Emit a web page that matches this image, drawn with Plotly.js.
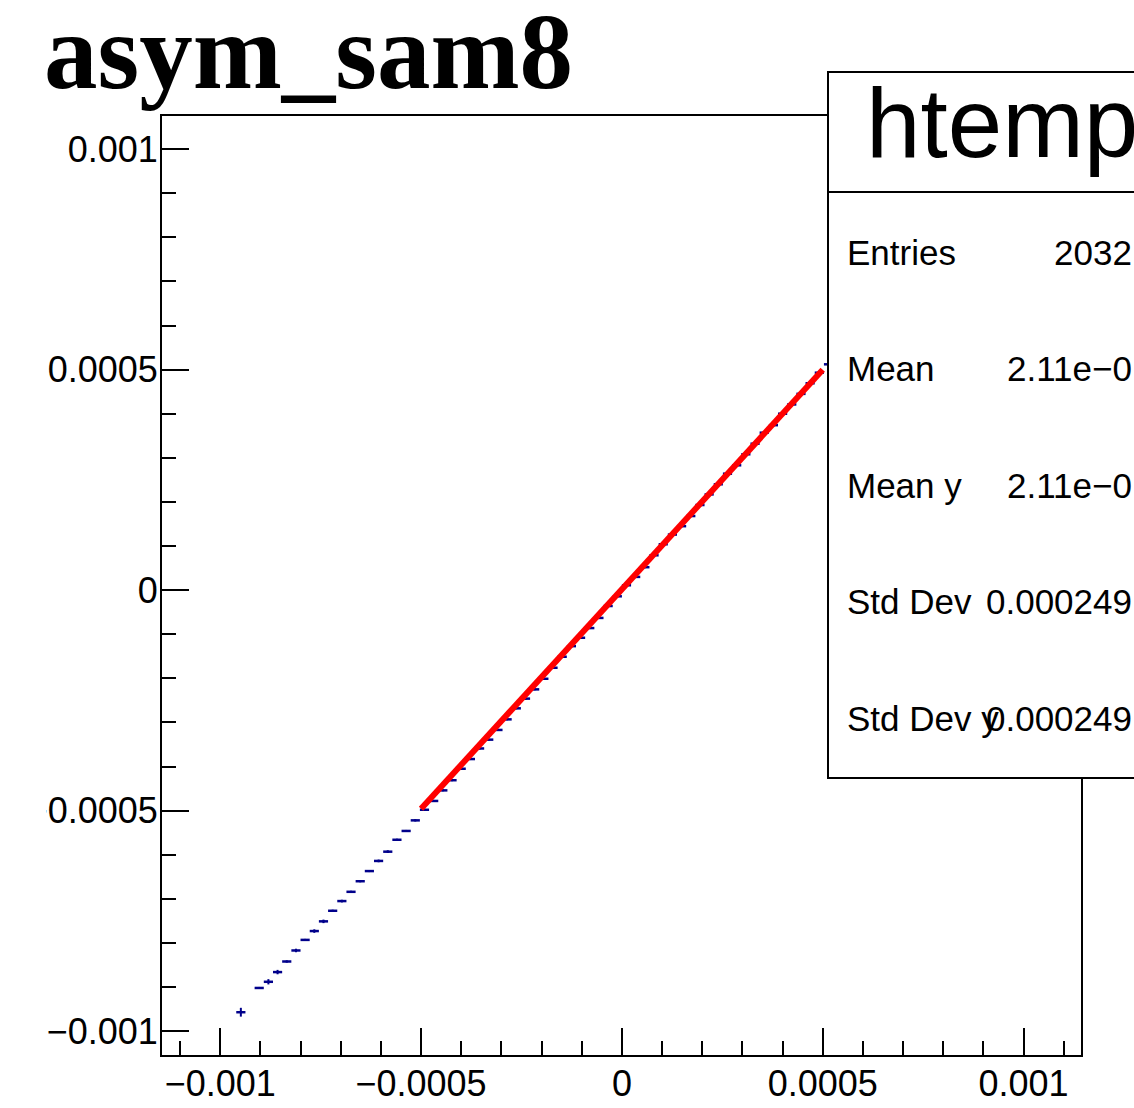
<!DOCTYPE html>
<html>
<head>
<meta charset="utf-8">
<script src="https://cdn.plot.ly/plotly-3.0.1.min.js"></script>
<style>
  html, body { margin: 0; padding: 0; background: #ffffff; }
  #chart { width: 1134px; height: 1108px; }
</style>
</head>
<body>
<div id="chart"></div>
<script>
// ---- Data ----
const chartTitle = "asym_sam8";
const statsTitle = "htemp";
const statsLabels = ["Entries", "Mean", "Mean y", "Std Dev", "Std Dev y"];
const statsValues = ["2032", "2.11e\u22120", "2.11e\u22120", "0.000249", "0.000249"];

// profile bin centres (x) and bin mean of y
const binCenters = [
  -0.0009487, -0.0009030, -0.0008801, -0.0008573, -0.0008344, -0.0008115, -0.0007887,
  -0.0007658, -0.0007430, -0.0007201, -0.0006972, -0.0006744, -0.0006515, -0.0006287,
  -0.0006058, -0.0005829, -0.0005601, -0.0005372, -0.0005144, -0.0004915, -0.0004686,
  -0.0004458, -0.0004229, -0.0004001, -0.0003772, -0.0003543, -0.0003315, -0.0003086,
  -0.0002858, -0.0002629, -0.0002400, -0.0002172, -0.0001943, -0.0001715, -0.0001486,
  -0.0001257, -0.0001029, -0.0000800, -0.0000572, -0.0000343, -0.0000114, 0.0000114,
  0.0000343, 0.0000572, 0.0000800, 0.0001029, 0.0001257, 0.0001486, 0.0001715,
  0.0001943, 0.0002172, 0.0002400, 0.0002629, 0.0002858, 0.0003086, 0.0003315,
  0.0003543, 0.0003772, 0.0004001, 0.0004229, 0.0004458, 0.0004686, 0.0004915,
  0.0005144
];
const binMeans = [
  -0.000957, -0.000902, -0.000888, -0.000866, -0.000842, -0.000817, -0.000793,
  -0.000773, -0.000751, -0.000727, -0.000705, -0.000684, -0.000660, -0.000637,
  -0.000614, -0.000593, -0.000566, -0.000546, -0.000522, -0.000498, -0.000478,
  -0.000454, -0.000431, -0.000405, -0.000383, -0.000359, -0.000339, -0.000317,
  -0.000293, -0.000268, -0.000246, -0.000225, -0.000201, -0.000176, -0.000151,
  -0.000127, -0.000108, -0.000086, -0.000063, -0.000036, -0.000014, 0.000011,
  0.000030, 0.000052, 0.000079, 0.000104, 0.000126, 0.000145, 0.000168,
  0.000193, 0.000217, 0.000240, 0.000264, 0.000283, 0.000308, 0.000332,
  0.000357, 0.000374, 0.000400, 0.000421, 0.000445, 0.000469, 0.000493,
  0.000512
];
const binMeanErrors = [
  0.0000100, 0.0000000, 0.0000060, 0.0000050, 0.0000020, 0.0000040, 0.0000020,
  0.0000040, 0.0000040, 0.0000020, 0.0000030, 0.0000020, 0.0000020, 0.0000020,
  0.0000030, 0.0000030, 0.0000020, 0.0000020, 0.0000020, 0.0000015, 0.0000015,
  0.0000015, 0.0000015, 0.0000015, 0.0000015, 0.0000015, 0.0000015, 0.0000015,
  0.0000015, 0.0000015, 0.0000015, 0.0000015, 0.0000015, 0.0000015, 0.0000015,
  0.0000015, 0.0000015, 0.0000015, 0.0000015, 0.0000015, 0.0000015, 0.0000015,
  0.0000015, 0.0000015, 0.0000015, 0.0000015, 0.0000015, 0.0000015, 0.0000015,
  0.0000015, 0.0000015, 0.0000015, 0.0000015, 0.0000015, 0.0000015, 0.0000015,
  0.0000015, 0.0000015, 0.0000015, 0.0000015, 0.0000015, 0.0000015, 0.0000015,
  0.0000015
];
const binHalfWidth = 0.00001143;

// linear fit (pol1) drawn over its fit range
const fitRange = [-0.0005, 0.0005];
const fitParams = [0.000002, 0.995];   // p0, p1

// axis ticks
const xTickVals = [-0.001, -0.0005, 0, 0.0005, 0.001];
const xTickText = ["\u22120.001", "\u22120.0005", "0", "0.0005", "0.001"];
const yTickVals = [-0.001, -0.0005, 0, 0.0005, 0.001];
const yTickText = ["\u22120.001", "\u22120.0005", "0", "0.0005", "0.001"];

// ---- Layout geometry ----
const FIG_W = 1134, FIG_H = 1108;
const M = { l: 162, r: 53, t: 116, b: 53 };
const PW = FIG_W - M.l - M.r, PH = FIG_H - M.t - M.b;
const px2x = p => (p - M.l) / PW;
const px2y = p => (FIG_H - M.b - p) / PH;

const fitX = fitRange.slice();
const fitY = fitX.map(x => fitParams[0] + fitParams[1] * x);

const profileTrace = {
  type: "scatter", mode: "markers",
  x: binCenters, y: binMeans,
  marker: { size: 2, color: "#00008b", symbol: "square" },
  error_x: { type: "constant", value: binHalfWidth, color: "#00008b", thickness: 2.5, width: 0 },
  error_y: { type: "data", array: binMeanErrors, visible: true, color: "#00008b", thickness: 2, width: 0 },
  hoverinfo: "skip", showlegend: false
};
const fitTrace = {
  type: "scatter", mode: "lines",
  x: fitX, y: fitY,
  line: { color: "#ff0000", width: 6 },
  hoverinfo: "skip", showlegend: false
};

const tickFont = { family: "Liberation Sans, Arial, sans-serif", size: 36, color: "#000000" };
const statFont = { family: "Liberation Sans, Arial, sans-serif", size: 35, color: "#000000" };

const annotations = [
  {
    text: chartTitle, xref: "paper", yref: "paper",
    x: px2x(42), y: px2y(52), xanchor: "left", yanchor: "middle", showarrow: false,
    font: { family: "Liberation Serif, Times New Roman, serif", size: 107, color: "#000000", weight: "bold" }
  },
  {
    text: statsTitle, xref: "paper", yref: "paper",
    x: px2x(864), y: px2y(123), xanchor: "left", yanchor: "middle", showarrow: false,
    font: { family: "Liberation Sans, Arial, sans-serif", size: 98, color: "#000000" }
  }
];
const rowY0 = 252, rowStep = 116.5;
statsLabels.forEach((lab, i) => {
  annotations.push({
    text: lab, xref: "paper", yref: "paper",
    x: px2x(845), y: px2y(rowY0 + i * rowStep), xanchor: "left", yanchor: "middle",
    showarrow: false, font: statFont
  });
  annotations.push({
    text: statsValues[i], xref: "paper", yref: "paper",
    x: px2x(1134), y: px2y(rowY0 + i * rowStep), xanchor: "right", yanchor: "middle",
    showarrow: false, font: statFont
  });
});

const shapes = [
  // white strip clipping the left edge of the canvas
  { type: "rect", xref: "paper", yref: "paper", layer: "above",
    x0: px2x(-5), x1: px2x(46), y0: px2y(FIG_H + 5), y1: px2y(100),
    fillcolor: "#ffffff", line: { width: 0 } },
  // stats box
  { type: "rect", xref: "paper", yref: "paper", layer: "above",
    x0: px2x(828), x1: px2x(1150), y0: px2y(778), y1: px2y(72),
    fillcolor: "#ffffff", line: { color: "#000000", width: 2 } },
  { type: "line", xref: "paper", yref: "paper", layer: "above",
    x0: px2x(828), x1: px2x(1150), y0: px2y(192), y1: px2y(192),
    line: { color: "#000000", width: 2 } }
];

const axisCommon = {
  showgrid: false, zeroline: false,
  showline: true, mirror: true, linecolor: "#000000", linewidth: 2,
  ticks: "inside", ticklen: 27, tickwidth: 2, tickcolor: "#000000",
  tickfont: tickFont, tickmode: "array",
  minor: { dtick: 0.0001, tick0: 0, ticks: "inside", ticklen: 14, tickwidth: 2, tickcolor: "#000000", showgrid: false }
};

const layout = {
  width: FIG_W, height: FIG_H,
  margin: M,
  paper_bgcolor: "#ffffff", plot_bgcolor: "#ffffff",
  showlegend: false,
  xaxis: Object.assign({}, axisCommon, {
    range: [-0.001145, 0.001143],
    tickvals: xTickVals, ticktext: xTickText,
    ticklabelstandoff: -4
  }),
  yaxis: Object.assign({}, axisCommon, {
    range: [-0.001054, 0.001075],
    tickvals: yTickVals, ticktext: yTickText,
    ticklabelstandoff: -5
  }),
  shapes: shapes,
  annotations: annotations
};

Plotly.newPlot("chart", [profileTrace, fitTrace], layout, { displayModeBar: false, staticPlot: true });
</script>
</body>
</html>
